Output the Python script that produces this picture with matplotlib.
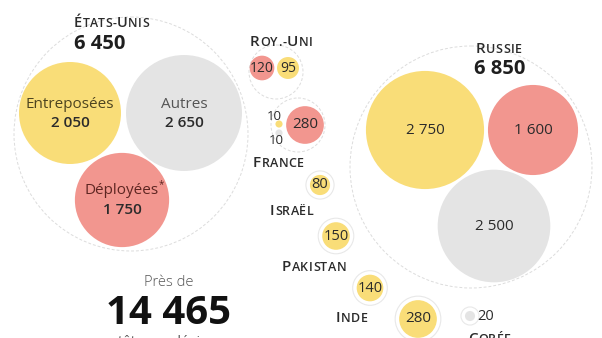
import numpy as np
import matplotlib.pyplot as plt
from matplotlib.patches import Circle
from matplotlib.offsetbox import TextArea, HPacker, AnnotationBbox

plt.rcParams["font.family"] = ["Open Sans", "DejaVu Sans"]

# données (nombre de têtes nucléaires)
usa_labels = ["Entreposées", "Autres", "Déployées"]
usa_values = [2050, 2650, 1750]
usa_total = "6 450"
russia_values = [2750, 1600, 2500]
russia_total = "6 850"
uk_values = [120, 95]
france_values = [280, 10, 10]
israel_value = 80
pakistan_value = 150
inde_value = 140
chine_value = 280
coree_value = 20
world_total = "14 465"

YELLOW = "#f9dd78"
RED = "#f2968f"
GREY = "#e4e4e4"
RING = "#dcdcdc"
K = 51 / np.sqrt(2050)   # px par racine de tête


def fmt(v):
    return f"{v:,}".replace(",", " ")


def rad(v):
    return K * np.sqrt(v)


fig = plt.figure(figsize=(6.02, 3.38), dpi=100)
ax = fig.add_axes([0, 0, 1, 1])
ax.set_xlim(0, 602)
ax.set_ylim(338, 0)
ax.axis("off")


def bubble(x, y, v, color, halo=False):
    if halo:
        ax.add_patch(Circle((x, y), rad(v) + 4, facecolor="white",
                            edgecolor="#e8e8e8", lw=0.8, zorder=1))
    ax.add_patch(Circle((x, y), rad(v), facecolor=color, edgecolor="none", zorder=2))


def ring(x, y, r):
    ax.add_patch(Circle((x, y), r, facecolor="none", edgecolor=RING,
                        lw=0.7, ls=(0, (3, 2)), zorder=0))


def smallcaps(x, y, text, big=11, small=9, color="#2b2b2b"):
    parts = []
    for ch in text:
        size = big if ch.isupper() else small
        parts.append(TextArea(ch.upper(), textprops=dict(fontsize=size, color=color,
                                                         fontweight="semibold")))
    box = HPacker(children=parts, align="baseline", pad=0, sep=0.3)
    ab = AnnotationBbox(box, (x, y), box_alignment=(0, 0.5), frameon=False,
                        pad=0, zorder=5, annotation_clip=False)
    ax.add_artist(ab)


# États-Unis
ring(131, 134, 117)
usa_pos = [(70, 113), (184, 113), (122, 200)]
usa_cols = [YELLOW, GREY, RED]
usa_tcols = ["#4d4420", "#555555", "#5e2622"]
for (x, y), v, c, lab, tc in zip(usa_pos, usa_values, usa_cols, usa_labels, usa_tcols):
    bubble(x, y, v, c)
    ax.text(x, y - 9, lab, ha="center", va="center", fontsize=11, color=tc, zorder=4)
    ax.text(x, y + 10, fmt(v), ha="center", va="center", fontsize=11,
            color="#2b2b2b", fontweight="semibold", zorder=4)
ax.text(161, 185, "*", fontsize=7, color="#5e2622", ha="center", va="center", zorder=4)
smallcaps(74, 23, "États-Unis", big=10.5, small=8.8)
ax.text(74, 44, usa_total, fontsize=14.5, fontweight="bold", color="#1e1e1e", va="center")

# Russie
ring(471, 167, 121)
rus_pos = [(425, 130), (533, 130), (494, 226)]
for (x, y), v, c in zip(rus_pos, russia_values, [YELLOW, RED, GREY]):
    bubble(x, y, v, c)
    ax.text(x, y, fmt(v), ha="center", va="center", fontsize=11,
            color="#2b2b2b", zorder=4)
smallcaps(476, 49, "Russie")
ax.text(474, 69, russia_total, fontsize=14.5, fontweight="bold", color="#1e1e1e", va="center")

# Royaume-Uni
ring(276, 72, 27)
for (x, y), v, c in zip([(262, 68), (288, 68)], uk_values, [RED, YELLOW]):
    bubble(x, y, v, c)
    ax.text(x, y, str(v), ha="center", va="center", fontsize=10, color="#2b2b2b", zorder=4)
smallcaps(250, 42, "Roy.-Uni")

# France
ring(298, 125, 27)
bubble(305, 125, france_values[0], RED)
ax.text(305, 125, str(france_values[0]), ha="center", va="center", fontsize=11,
        color="#2b2b2b", zorder=4)
bubble(279, 124, france_values[1], YELLOW)
bubble(279, 133, france_values[2], GREY)
ax.text(274, 117, str(france_values[1]), ha="center", va="center", fontsize=9.5, color="#2b2b2b", zorder=4)
ax.text(276, 141, str(france_values[2]), ha="center", va="center", fontsize=9.5, color="#2b2b2b", zorder=4)
smallcaps(253, 163, "France")

# autres pays
singles = [(320, 185, israel_value, "Israël", (270, 211)),
           (336, 236, pakistan_value, "Pakistan", (282, 267)),
           (370, 288, inde_value, "Inde", (336, 318)),
           (418, 319, chine_value, None, None)]
for x, y, v, name, lp in singles:
    bubble(x, y, v, YELLOW, halo=True)
    ax.text(x, y, str(v), ha="center", va="center", fontsize=10.5 if v < 200 else 11,
            color="#2b2b2b", zorder=4)
    if name:
        smallcaps(lp[0], lp[1], name)

bubble(470, 316, coree_value, GREY, halo=True)
ax.text(477, 316, str(coree_value), ha="left", va="center", fontsize=10.5, color="#2b2b2b")
smallcaps(468, 339, "Corée")

# total
ax.text(169, 283, "Près de", ha="center", va="center", fontsize=10.5, color="#555555",
        fontweight="light")
ax.text(169, 314, world_total, ha="center", va="center", fontsize=29, fontweight="bold",
        color="#111111")
ax.text(169, 343, "têtes nucléaires", ha="center", va="center", fontsize=10, color="#555555")

fig.savefig("out.png", dpi=100)
